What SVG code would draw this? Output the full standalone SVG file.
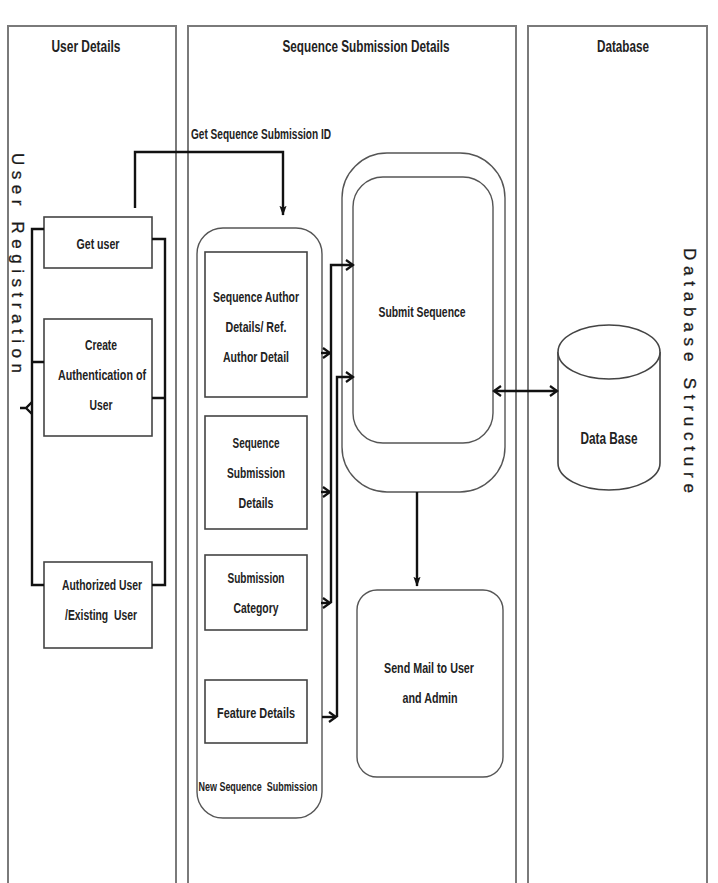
<svg xmlns="http://www.w3.org/2000/svg" width="718" height="883" viewBox="0 0 718 883">
<defs>
<style>
.panel{fill:#fff;stroke:#7a7a7a;stroke-width:2}
.box{fill:#fff;stroke:#444;stroke-width:1.6}
.rbox{fill:#fff;stroke:#555;stroke-width:1.4}
.ln{fill:none;stroke:#111;stroke-width:2.4}
.t{font-family:"Liberation Sans",Arial,sans-serif;font-weight:bold;font-size:15px;fill:#222;text-anchor:middle;white-space:pre}
.ttl{font-size:16px}
.vt{font-family:"Liberation Sans",Arial,sans-serif;font-size:17px;fill:#1a1a1a;stroke:#1a1a1a;stroke-width:0.3;white-space:pre}
</style>
<marker id="chev" markerWidth="10" markerHeight="12" refX="8" refY="6" orient="auto" markerUnits="userSpaceOnUse">
<path d="M1,1 L8,6 L1,11" fill="none" stroke="#111" stroke-width="2.2"/>
</marker>
<marker id="chevs" markerWidth="10" markerHeight="12" refX="8" refY="6" orient="auto-start-reverse" markerUnits="userSpaceOnUse">
<path d="M1,1 L8,6 L1,11" fill="none" stroke="#111" stroke-width="2.2"/>
</marker>
<marker id="tri" markerWidth="10" markerHeight="14" refX="13" refY="5" orient="auto" markerUnits="userSpaceOnUse" viewBox="0 0 14 10">
<path d="M0,0 L14,5 L0,10 L3,5 Z" fill="#111"/>
</marker>
</defs>

<g id="lanes">
<rect class="panel" x="8" y="26" width="168" height="870"/>
<rect class="panel" x="188" y="26" width="328" height="870"/>
<rect class="panel" x="528" y="26" width="179" height="870"/>
<text class="t ttl" x="86" y="52" textLength="69" lengthAdjust="spacingAndGlyphs">User Details</text>
<text class="t ttl" x="366" y="52" textLength="167" lengthAdjust="spacingAndGlyphs">Sequence Submission Details</text>
<text class="t ttl" x="623" y="52" textLength="52" lengthAdjust="spacingAndGlyphs">Database</text>
<text class="vt" transform="translate(12,153) rotate(90)" textLength="220" lengthAdjust="spacing">User Registration</text>
<text class="vt" transform="translate(684,248) rotate(90)" textLength="245" lengthAdjust="spacing">Database Structure</text>
</g>

<g id="get-user">
<rect class="box" x="44" y="217" width="108" height="51"/>
<text class="t" x="98" y="249" textLength="43" lengthAdjust="spacingAndGlyphs">Get user</text>
</g>
<g id="create-auth">
<rect class="box" x="44" y="319" width="108" height="117"/>
<text class="t" x="101" y="350" textLength="32" lengthAdjust="spacingAndGlyphs">Create</text>
<text class="t" x="102" y="380" textLength="88" lengthAdjust="spacingAndGlyphs">Authentication of</text>
<text class="t" x="101" y="410" textLength="23" lengthAdjust="spacingAndGlyphs">User</text>
</g>
<g id="authorized-user">
<rect class="box" x="44" y="562" width="108" height="86"/>
<text class="t" x="102" y="590" textLength="80" lengthAdjust="spacingAndGlyphs">Authorized User</text>
<text class="t" x="101" y="620" textLength="72" lengthAdjust="spacingAndGlyphs">/Existing  User</text>
</g>

<g id="new-sequence-submission">
<rect class="rbox" x="197" y="228" width="125" height="590" rx="26"/>
<text class="t" x="258" y="791" style="font-size:13px" textLength="119" lengthAdjust="spacingAndGlyphs">New Sequence  Submission</text>
</g>
<g id="seq-author">
<rect class="box" x="205" y="252" width="102" height="145"/>
<text class="t" x="256" y="302" textLength="86" lengthAdjust="spacingAndGlyphs">Sequence Author</text>
<text class="t" x="256" y="332" textLength="61" lengthAdjust="spacingAndGlyphs">Details/ Ref.</text>
<text class="t" x="256" y="362" textLength="66" lengthAdjust="spacingAndGlyphs">Author Detail</text>
</g>
<g id="seq-submission-details">
<rect class="box" x="205" y="416" width="102" height="113"/>
<text class="t" x="256" y="448" textLength="47" lengthAdjust="spacingAndGlyphs">Sequence</text>
<text class="t" x="256" y="478" textLength="58" lengthAdjust="spacingAndGlyphs">Submission</text>
<text class="t" x="256" y="508" textLength="35" lengthAdjust="spacingAndGlyphs">Details</text>
</g>
<g id="submission-category">
<rect class="box" x="205" y="555" width="102" height="75"/>
<text class="t" x="256" y="583" textLength="57" lengthAdjust="spacingAndGlyphs">Submission</text>
<text class="t" x="256" y="613" textLength="45" lengthAdjust="spacingAndGlyphs">Category</text>
</g>
<g id="feature-details">
<rect class="box" x="205" y="680" width="102" height="63"/>
<text class="t" x="256" y="718" textLength="78" lengthAdjust="spacingAndGlyphs">Feature Details</text>
</g>

<g id="submit-sequence">
<rect class="rbox" x="342" y="153" width="163" height="339" rx="45"/>
<rect class="rbox" x="353" y="177" width="140" height="266" rx="30"/>
<text class="t" x="422" y="317" textLength="87" lengthAdjust="spacingAndGlyphs">Submit Sequence</text>
</g>
<g id="send-mail">
<rect class="rbox" x="357" y="590" width="146" height="187" rx="20"/>
<text class="t" x="429" y="673" textLength="90" lengthAdjust="spacingAndGlyphs">Send Mail to User</text>
<text class="t" x="430" y="703" textLength="55" lengthAdjust="spacingAndGlyphs">and Admin</text>
</g>

<g id="database">
<path d="M558,352 V463 A51,27 0 0 0 660,463 V352" fill="#fff" stroke="#444" stroke-width="1.6"/>
<ellipse cx="609" cy="352" rx="51" ry="27" fill="#fff" stroke="#444" stroke-width="1.6"/>
<text class="t" x="609" y="444" style="font-size:17px" textLength="57" lengthAdjust="spacingAndGlyphs">Data Base</text>
</g>

<g id="connectors">
<path class="ln" d="M44,229 H32 V585 H44 M32,362 H44"/>
<path class="ln" d="M20,408 H26 L32,402 M26,408 L32,414"/>
<path class="ln" d="M152,239 H165 V585 H152 M152,398 H165"/>
<path class="ln" d="M135,208 V152 H283 V215" marker-end="url(#tri)"/>
<text class="t" x="261" y="139" style="font-size:14px" textLength="140" lengthAdjust="spacingAndGlyphs">Get Sequence Submission ID</text>
<path class="ln" d="M321,353 H330" marker-end="url(#chev)"/>
<path class="ln" d="M321,492 H330" marker-end="url(#chev)"/>
<path class="ln" d="M321,603 H330" marker-end="url(#chev)"/>
<path class="ln" d="M322,717 H336" marker-end="url(#chev)"/>
<path class="ln" d="M331,603 V265 H353" marker-end="url(#chev)"/>
<path class="ln" d="M337,717 V377 H353" marker-end="url(#chev)"/>
<path class="ln" d="M417,492 V586" marker-end="url(#tri)"/>
<path class="ln" d="M494,391 H557" marker-start="url(#chevs)" marker-end="url(#chevs)"/>
</g>
</svg>
